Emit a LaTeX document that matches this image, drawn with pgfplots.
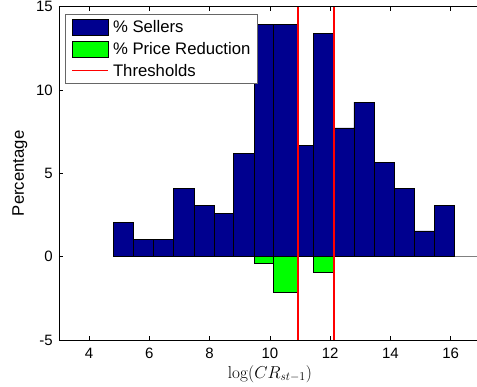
\documentclass[border=0pt]{standalone}
\usepackage{pgfplots}
\pgfplotsset{compat=1.18}
\usepackage[no-math]{fontspec}
\setmainfont{Liberation Sans}
\definecolor{navy}{RGB}{0,0,143}
\definecolor{lgreen}{RGB}{0,255,0}
\definecolor{thr}{RGB}{255,0,0}
\begin{document}
\begin{tikzpicture}
\begin{axis}[
  scale only axis, width=421.8bp, height=333.35bp,
  at={(0,0)}, anchor=south west,
  xmin=3, xmax=17, ymin=-5, ymax=15,
  xtick={4,6,...,16}, ytick={-5,0,...,15},
  tick align=inside, major tick length=4bp,
  tick style={black, line width=0.5bp},
  axis line style={line width=0.6bp, black},
  /pgf/number format/assume math mode=true,
  ticklabel style={font=\fontsize{15bp}{18bp}\selectfont},
  xticklabel style={anchor=north, inner sep=0pt, yshift=-8bp},
  yticklabel style={anchor=east, inner sep=0pt, xshift=-6bp},
  xlabel={$\log(CR_{st-1})$},
  ylabel={Percentage},
  every axis x label/.style={at={(axis description cs:0.5,0)}, anchor=center, yshift=-34bp, font=\fontsize{17bp}{20bp}\selectfont},
  every axis y label/.style={at={(axis description cs:-0.0925,0.5)}, rotate=90, anchor=center, font=\fontsize{16.7bp}{20bp}\selectfont},
  legend style={at={(axis description cs:0.0135,0.978)}, anchor=north west,
    draw=black!60, line width=0.7bp, fill=white,
    font=\fontsize{16.7bp}{20bp}\selectfont,
    inner xsep=6.5bp, inner ysep=1.7bp, row sep=0bp, column sep=4bp,
    nodes={inner sep=0bp, text height=16.9bp, text depth=4.9bp}},
  legend cell align=left,
]
\addplot[gray, line width=0.6bp, forget plot] coordinates {(4.797,0) (17,0)};
\addplot[ybar interval, fill=navy, draw=black, line width=0.5bp,
  legend image code/.code={\draw[fill=navy, draw=black, line width=0.5bp] (0bp,-8bp) rectangle (36bp,8bp);}]
  coordinates {
  (4.797,2.06) (5.461,1.03) (6.125,1.03) (6.789,4.12) (7.476,3.09) (8.141,2.58)
  (8.781,6.19) (9.479,13.92) (10.110,13.92) (10.920,6.70) (11.438,13.40)
  (12.125,7.73) (12.789,9.28) (13.463,5.67) (14.117,4.12) (14.791,1.55)
  (15.455,3.09) (16.120,0)};
\addlegendentry{\% Sellers}
\addplot[ybar interval, fill=lgreen, draw=black, line width=0.5bp,
  legend image code/.code={\draw[fill=lgreen, draw=black, line width=0.5bp] (0bp,-8bp) rectangle (36bp,8bp);}]
  coordinates {(9.479,-0.40) (10.110,-2.14) (10.920,0)};
\addlegendentry{\% Price Reduction}
\addplot[ybar interval, fill=lgreen, draw=black, line width=0.5bp, forget plot]
  coordinates {(11.438,-0.94) (12.125,0)};
\addplot[draw=thr, line width=1.6bp, sharp plot,
  legend image code/.code={\draw[thr, line width=1.5bp] (0bp,0bp) -- (36bp,0bp);}]
  coordinates {(10.935,-5) (10.935,15)};
\addlegendentry{Thresholds}
\addplot[draw=thr, line width=1.6bp, sharp plot, forget plot]
  coordinates {(12.13,-5) (12.13,15)};
\end{axis}
\pgfresetboundingbox
\useasboundingbox (-59bp,-46.95bp) rectangle (418bp,340.05bp);
\end{tikzpicture}
\end{document}
